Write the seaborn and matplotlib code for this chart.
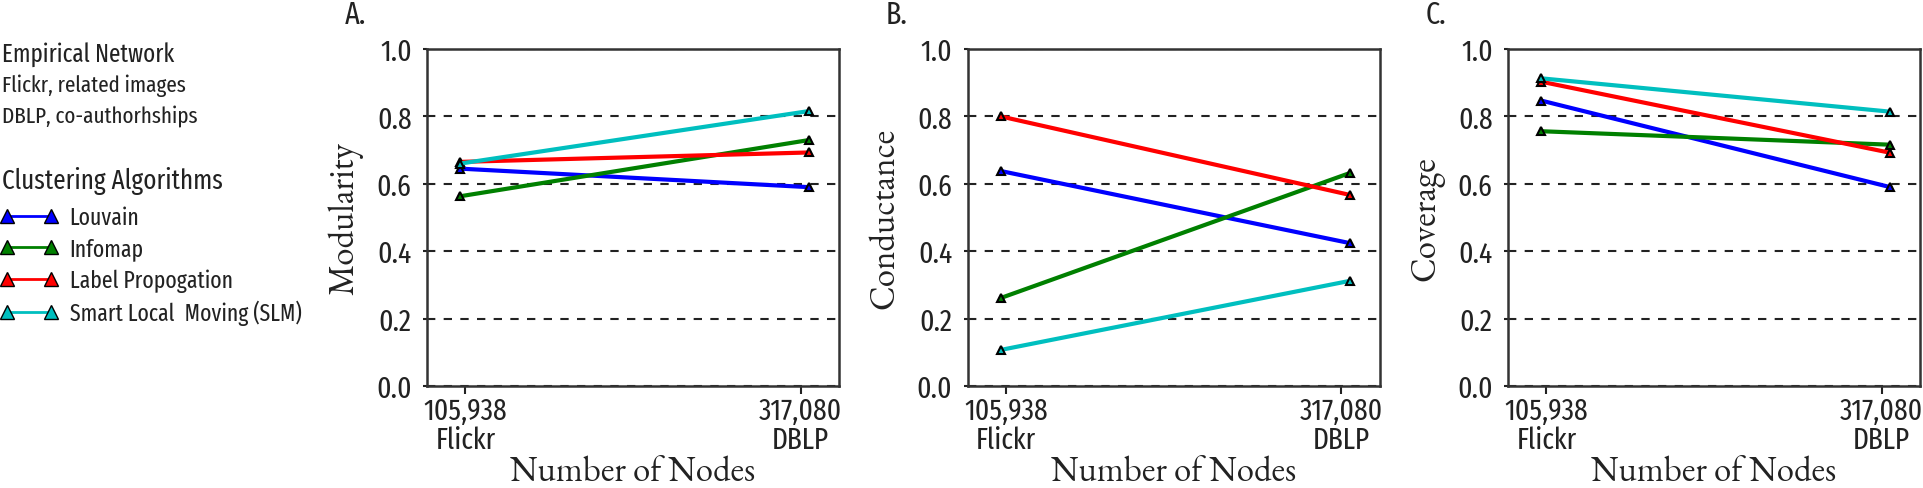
import numpy as np
import pandas as pd
import matplotlib
matplotlib.use('Agg')
import matplotlib.pyplot as plt
from matplotlib import font_manager
from matplotlib.lines import Line2D
import seaborn as sns

# data
networks = ['Flickr', 'DBLP']
node_counts = ['105,938', '317,080']
algorithms = ['Louvain', 'Infomap', 'Label Propogation', 'Smart Local  Moving (SLM)']
colors = ['#0000ff', '#008000', '#ff0000', '#00bfbf']

modularity_flickr = [0.645, 0.563, 0.665, 0.660]
modularity_dblp = [0.590, 0.730, 0.693, 0.816]
conductance_flickr = [0.638, 0.261, 0.800, 0.107]
conductance_dblp = [0.424, 0.632, 0.567, 0.312]
coverage_flickr = [0.847, 0.756, 0.903, 0.913]
coverage_dblp = [0.590, 0.716, 0.692, 0.814]

panel_letters = ['A.', 'B.', 'C.']
metric_names = ['Modularity', 'Conductance', 'Coverage']
y_ticks = [0.0, 0.2, 0.4, 0.6, 0.8, 1.0]

# Set plot style
sns.set_style('ticks')

# pick a condensed sans and a garamond-ish serif from what is installed
names = {f.name for f in font_manager.fontManager.ttflist}
narrow_pref = ['Fira Sans Extra Condensed', 'PT Sans Narrow', 'Roboto Condensed',
               'Asap Condensed', 'Archivo Narrow', 'Pragati Narrow', 'Liberation Sans Narrow']
serif_pref = ['EB Garamond', 'Cormorant Garamond', 'Crimson Text', 'Liberation Serif']
sans = [n for n in narrow_pref if n in names][:1] + ['DejaVu Sans']
serif = [n for n in serif_pref if n in names][:1] + ['DejaVu Serif']
plt.rcParams['font.family'] = sans

# long table for seaborn
rows = []
for metric, flickr, dblp in zip(metric_names,
                                [modularity_flickr, conductance_flickr, coverage_flickr],
                                [modularity_dblp, conductance_dblp, coverage_dblp]):
    for alg, v1, v2 in zip(algorithms, flickr, dblp):
        rows.append({'metric': metric, 'algorithm': alg, 'pos': 0, 'value': v1})
        rows.append({'metric': metric, 'algorithm': alg, 'pos': 1, 'value': v2})
df = pd.DataFrame(rows)

W, H = 1923, 489
fig = plt.figure(figsize=(W / 100, H / 100), dpi=100)

ax_left = [427, 967.5, 1508]
ax_w, ax_top, ax_bot = 412, 50, 387
txt_col = '#222222'

for i, metric in enumerate(metric_names):
    ax = fig.add_axes([ax_left[i] / W, 1 - ax_bot / H, ax_w / W, (ax_bot - ax_top) / H])
    sub = df[df['metric'] == metric]
    sns.lineplot(data=sub, x='pos', y='value', hue='algorithm', hue_order=algorithms,
                 palette=colors, lw=3, marker='^', markersize=6, markeredgecolor='black',
                 markeredgewidth=1.5, legend=False, ax=ax)
    ax.set_xlim(-0.095, 1.085)
    ax.set_ylim(0, 1)
    # the original ticks sit a little inside the data points
    ax.set_xticks([0.015, 0.975])
    ax.set_xticklabels([f'{n}\n{net}' for n, net in zip(node_counts, networks)],
                       fontsize=21.5, linespacing=1.0)
    ax.set_yticks(y_ticks)
    ax.set_yticklabels([f'{t:.1f}' for t in y_ticks], fontsize=21.5)
    ax.tick_params(axis='y', length=3, width=1.5, pad=8, colors=txt_col)
    ax.tick_params(axis='x', length=6, width=1.5, pad=1.5, colors=txt_col)
    ax.yaxis.grid(True, linestyle=(0, (4, 4)), color=txt_col, lw=1.5)
    for s in ax.spines.values():
        s.set_visible(True)
        s.set_color('#333333')
        s.set_linewidth(1.8)
    ax.set_ylabel(metric, fontfamily=serif, fontsize=25, color=txt_col)
    ax.yaxis.set_label_coords(-0.155, 0.5)
    ax.set_xlabel('Number of Nodes', fontfamily=serif, fontsize=25, color=txt_col, va='baseline')
    ax.xaxis.set_label_coords(0.5, (ax_bot - 481) / (ax_bot - ax_top))
    ax.text(-82 / ax_w, 1 + (ax_top - 15) / (ax_bot - ax_top), panel_letters[i],
            transform=ax.transAxes, ha='left', va='center', fontsize=22, color=txt_col)

# left-hand key
fig.text(2 / W, 1 - 55 / H, 'Empirical Network', fontsize=18, va='center', color=txt_col)
fig.text(2 / W, 1 - 86 / H, 'Flickr, related images', fontsize=16.5, va='center', color=txt_col)
fig.text(2 / W, 1 - 116 / H, 'DBLP, co-authorhships', fontsize=16.5, va='center', color=txt_col)
fig.text(2 / W, 1 - 181 / H, 'Clustering Algorithms', fontsize=19.5, va='center', color=txt_col)

handles = [Line2D([], [], color=c, lw=2, marker='^', markersize=10,
                  markeredgecolor='black', markeredgewidth=1) for c in colors]
fig.legend(handles, algorithms, loc='upper left', bbox_to_anchor=(0, 1 - 207 / H),
           frameon=False, numpoints=2, fontsize=17, handlelength=2.45,
           handletextpad=0.5, labelspacing=0.34, borderpad=0, borderaxespad=0,
           labelcolor=txt_col)

fig.savefig('out.png', dpi=100)
